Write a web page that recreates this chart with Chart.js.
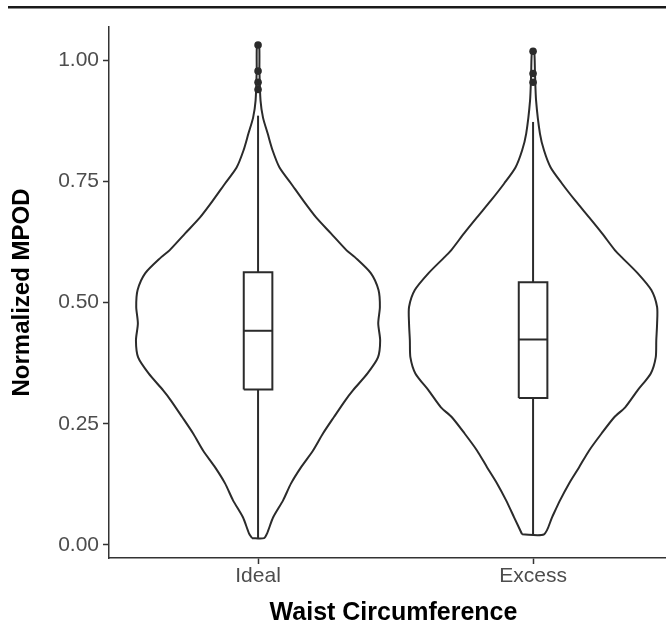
<!DOCTYPE html>
<html>
<head>
<meta charset="utf-8">
<script src="https://cdn.jsdelivr.net/npm/chart.js@4"></script>
<style>
  html, body { margin: 0; padding: 0; overflow: hidden; background: #fff; }
</style>
</head>
<body>
<canvas id="myChart" width="682" height="627"></canvas>
<script>
// categories and tick labels
const categories = ["Ideal", "Excess"];
const yTicks = [0, 0.25, 0.5, 0.75, 1];

// violin outline: MPOD level (bottom to top) and half width of the density
const idealLevels = [0.014, 0.024, 0.057, 0.092, 0.127, 0.160, 0.195, 0.230, 0.264, 0.299, 0.319, 0.354, 0.387, 0.422, 0.457, 0.491, 0.526, 0.561, 0.594, 0.608, 0.643, 0.676, 0.711, 0.746, 0.779, 0.814, 0.849, 0.882, 0.917, 0.978, 1.032];
const idealWidths = [0.022, 0.033, 0.055, 0.091, 0.12, 0.156, 0.2, 0.236, 0.276, 0.318, 0.345, 0.398, 0.436, 0.444, 0.437, 0.443, 0.438, 0.41, 0.352, 0.322, 0.265, 0.211, 0.164, 0.12, 0.078, 0.053, 0.035, 0.018, 0.009, 0.005, 0.004];
const excessLevels = [0.022, 0.057, 0.092, 0.127, 0.160, 0.195, 0.230, 0.264, 0.284, 0.319, 0.354, 0.387, 0.422, 0.457, 0.491, 0.526, 0.561, 0.594, 0.608, 0.643, 0.676, 0.711, 0.746, 0.779, 0.814, 0.849, 0.917, 0.973, 1.019];
const excessWidths = [0.04, 0.069, 0.098, 0.131, 0.167, 0.204, 0.249, 0.296, 0.335, 0.38, 0.428, 0.446, 0.448, 0.451, 0.451, 0.43, 0.38, 0.322, 0.298, 0.251, 0.204, 0.153, 0.105, 0.064, 0.04, 0.025, 0.011, 0.007, 0.004];

// boxplot stats, one value per category
const whiskerLow = [0.014, 0.022];
const q1 = [0.321, 0.303];
const median = [0.442, 0.424];
const q3 = [0.563, 0.542];
const whiskerHigh = [0.886, 0.873];
const idealOutliers = [1.032, 0.978, 0.955, 0.940];
const excessOutliers = [1.019, 0.973, 0.955];

const ink = "#2b2b2b";
const boxHalf = 0.052;

function violinPoints(center, levels, widths) {
  let left = levels.map((v, i) => ({ x: center - widths[i], y: v }));
  let right = levels.map((v, i) => ({ x: center + widths[i], y: v })).reverse();
  return left.concat(right, [left[0]]);
}

function boxPoints(center, i) {
  return [
    { x: center - boxHalf, y: q1[i] },
    { x: center + boxHalf, y: q1[i] },
    { x: center + boxHalf, y: q3[i] },
    { x: center - boxHalf, y: q3[i] },
    { x: center - boxHalf, y: q1[i] },
  ];
}

function lineSet(points, tension) {
  return {
    data: points,
    showLine: true,
    borderColor: ink,
    borderWidth: 2,
    pointRadius: 0,
    tension: tension || 0,
    fill: false,
  };
}

let datasets = [];
let violins = [[idealLevels, idealWidths], [excessLevels, excessWidths]];
let outliers = [idealOutliers, excessOutliers];

categories.forEach((c, i) => {
  let center = i + 1;
  datasets.push(lineSet(violinPoints(center, violins[i][0], violins[i][1]), 0.25));
  datasets.push(lineSet(boxPoints(center, i)));
  datasets.push(lineSet([{ x: center - boxHalf, y: median[i] }, { x: center + boxHalf, y: median[i] }]));
  datasets.push(lineSet([{ x: center, y: q3[i] }, { x: center, y: whiskerHigh[i] }]));
  datasets.push(lineSet([{ x: center, y: q1[i] }, { x: center, y: whiskerLow[i] }]));
  datasets.push({
    data: outliers[i].map(v => ({ x: center, y: v })),
    showLine: false,
    pointRadius: 3.8,
    pointBackgroundColor: ink,
    pointBorderColor: ink,
    pointBorderWidth: 0,
  });
});

// thin rule across the top of the figure
const topRule = {
  id: "topRule",
  afterDraw(chart) {
    let c = chart.ctx;
    c.save();
    c.fillStyle = "#1a1a1a";
    c.fillRect(8, 6, chart.width, 2.5);
    c.restore();
  },
};

let ctx = document.getElementById("myChart").getContext("2d");
let myChart = new Chart(ctx, {
  type: "scatter",
  data: { datasets: datasets },
  plugins: [topRule],
  options: {
    responsive: false,
    animation: false,
    layout: { padding: { top: 27, right: 0, bottom: 0, left: 0 } },
    plugins: {
      legend: { display: false },
      tooltip: { enabled: false },
    },
    scales: {
      x: {
        type: "linear",
        min: 0.458,
        max: 2.527,
        afterBuildTicks: (scale) => {
          scale.ticks = categories.map((c, i) => ({ value: i + 1 }));
        },
        afterFit: (scale) => { scale.height = 69; },
        ticks: {
          callback: (v) => categories[v - 1],
          color: "#4d4d4d",
          font: { family: "Liberation Sans", size: 21 },
          padding: 0,
          maxRotation: 0,
        },
        grid: { drawOnChartArea: false, drawTicks: true, tickLength: 6, tickColor: "#333", tickWidth: 1.5 },
        border: { display: true, color: "#333", width: 1.5 },
        title: {
          display: true,
          text: "Waist Circumference",
          color: "#000",
          font: { family: "Liberation Sans", size: 25, weight: "bold" },
          padding: { top: 0, bottom: -1 },
        },
      },
      y: {
        type: "linear",
        min: -0.027,
        max: 1.069,
        afterBuildTicks: (scale) => {
          scale.ticks = yTicks.map(v => ({ value: v }));
        },
        afterFit: (scale) => { scale.width = 109; },
        ticks: {
          callback: (v) => v.toFixed(2),
          color: "#4d4d4d",
          font: { family: "Liberation Sans", size: 21 },
          padding: 4,
        },
        grid: { drawOnChartArea: false, drawTicks: true, tickLength: 6, tickColor: "#333", tickWidth: 1.5 },
        border: { display: true, color: "#333", width: 1.5 },
        title: {
          display: true,
          text: "Normalized MPOD",
          color: "#000",
          font: { family: "Liberation Sans", size: 24, weight: "bold" },
          padding: { top: 8, bottom: 0 },
        },
      },
    },
  },
});
</script>
</body>
</html>
